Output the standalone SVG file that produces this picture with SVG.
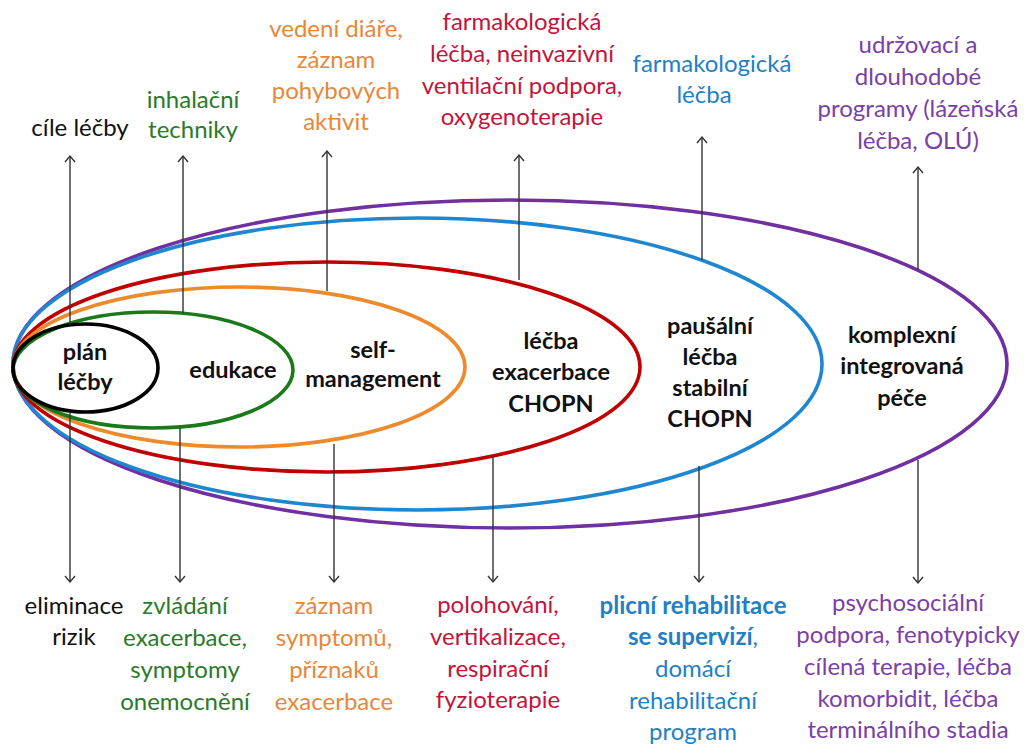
<svg xmlns="http://www.w3.org/2000/svg" width="1024" height="744" viewBox="0 0 1024 744">
  <defs>
    <marker id="tip" markerUnits="userSpaceOnUse" markerWidth="16" markerHeight="16" refX="8" refY="8" orient="auto" overflow="visible">
      <path d="M2,3 L8,8 L2,13" fill="none" stroke="#333" stroke-width="1.4"/>
    </marker>
    <style>
      text { font-family: Lato, "Liberation Sans", sans-serif; font-size: 24px; text-anchor: middle; }
      .b { font-weight: bold; fill: #111; font-size: 23.5px; }
      .ring { fill: none; stroke-width: 3.6; }
      .arrow { stroke: #333; stroke-width: 1.4; fill: none; marker-end: url(#tip); }
      .k { fill: #111; }
      .g { fill: #2a7a2a; }
      .o { fill: #e8873a; }
      .r { fill: #c4143a; }
      .bl { fill: #1f80c6; }
      .p { fill: #7a40a8; }
    </style>
  </defs>
  <rect width="1024" height="744" fill="#fff"/>

  <!-- nested care levels, outermost first -->
  <g id="integrated-care">
    <ellipse class="ring" cx="510" cy="364" rx="497" ry="164" stroke="#7030a0"/>
    <text class="b" x="902" y="343">komplexní</text>
    <text class="b" x="902" y="374">integrovaná</text>
    <text class="b" x="902" y="406">péče</text>
  </g>
  <g id="stable-treatment">
    <ellipse class="ring" cx="417.5" cy="364" rx="404.5" ry="146" stroke="#1f86d0"/>
    <text class="b" x="710" y="334">paušální</text>
    <text class="b" x="710" y="365">léčba</text>
    <text class="b" x="710" y="396">stabilní</text>
    <text class="b" x="710" y="427">CHOPN</text>
  </g>
  <g id="exacerbation-treatment">
    <ellipse class="ring" cx="326.5" cy="367" rx="313.5" ry="105" stroke="#c00000"/>
    <text class="b" x="551" y="349">léčba</text>
    <text class="b" x="551" y="380">exacerbace</text>
    <text class="b" x="551" y="412">CHOPN</text>
  </g>
  <g id="self-management">
    <ellipse class="ring" cx="239" cy="367" rx="226" ry="80" stroke="#ec8a2c"/>
    <text class="b" x="373" y="358">self-</text>
    <text class="b" x="373" y="387">management</text>
  </g>
  <g id="education">
    <ellipse class="ring" cx="153" cy="370" rx="140" ry="58" stroke="#1a7a1a"/>
    <text class="b" x="233" y="378">edukace</text>
  </g>
  <g id="treatment-plan">
    <ellipse class="ring" cx="85.5" cy="368" rx="72.5" ry="44" stroke="#000"/>
    <text class="b" x="85" y="360">plán</text>
    <text class="b" x="85" y="390">léčby</text>
  </g>

  <g id="connectors">
    <line class="arrow" x1="70" y1="325" x2="70" y2="156"/>
    <line class="arrow" x1="183" y1="313" x2="183" y2="156"/>
    <line class="arrow" x1="327" y1="291" x2="327" y2="151"/>
    <line class="arrow" x1="519" y1="280" x2="519" y2="155"/>
    <line class="arrow" x1="702" y1="260" x2="702" y2="137"/>
    <line class="arrow" x1="918" y1="270" x2="918" y2="167"/>
    <line class="arrow" x1="70" y1="412" x2="70" y2="582"/>
    <line class="arrow" x1="180" y1="428" x2="180" y2="582"/>
    <line class="arrow" x1="334" y1="444" x2="334" y2="582"/>
    <line class="arrow" x1="493" y1="456" x2="493" y2="582"/>
    <line class="arrow" x1="699" y1="466" x2="699" y2="582"/>
    <line class="arrow" x1="918" y1="460" x2="918" y2="583"/>
  </g>

  <!-- labels above -->
  <g id="goals">
    <text class="k" x="80" y="136">cíle léčby</text>
  </g>
  <g id="inhalation">
    <text class="g" x="193" y="108">inhalační</text>
    <text class="g" x="193" y="138">techniky</text>
  </g>
  <g id="diary">
    <text class="o" x="336" y="37">vedení diáře,</text>
    <text class="o" x="336" y="68">záznam</text>
    <text class="o" x="336" y="99">pohybových</text>
    <text class="o" x="336" y="130">aktivit</text>
  </g>
  <g id="acute-pharmacology">
    <text class="r" x="522" y="30">farmakologická</text>
    <text class="r" x="522" y="62">léčba, neinvazivní</text>
    <text class="r" x="522" y="94">ventilační podpora,</text>
    <text class="r" x="522" y="125">oxygenoterapie</text>
  </g>
  <g id="stable-pharmacology">
    <text class="bl" x="712" y="72" font-size="22">farmakologická</text>
    <text class="bl" x="704" y="103" font-size="22">léčba</text>
  </g>
  <g id="long-term">
    <text class="p" x="918" y="53">udržovací a</text>
    <text class="p" x="918" y="85">dlouhodobé</text>
    <text class="p" x="918" y="117">programy (lázeňská</text>
    <text class="p" x="918" y="149">léčba, OLÚ)</text>
  </g>

  <!-- labels below -->
  <g id="risks">
    <text class="k" x="74" y="614">eliminace</text>
    <text class="k" x="74" y="645">rizik</text>
  </g>
  <g id="symptom-control">
    <text class="g" x="185" y="614">zvládání</text>
    <text class="g" x="185" y="646">exacerbace,</text>
    <text class="g" x="185" y="678">symptomy</text>
    <text class="g" x="185" y="710">onemocnění</text>
  </g>
  <g id="symptom-record">
    <text class="o" x="334" y="614">záznam</text>
    <text class="o" x="334" y="646">symptomů,</text>
    <text class="o" x="334" y="678">příznaků</text>
    <text class="o" x="334" y="710">exacerbace</text>
  </g>
  <g id="physiotherapy">
    <text class="r" x="498" y="613">polohování,</text>
    <text class="r" x="498" y="645">vertikalizace,</text>
    <text class="r" x="498" y="677">respirační</text>
    <text class="r" x="498" y="708">fyzioterapie</text>
  </g>
  <g id="rehabilitation">
    <text class="bl" x="693" y="614" font-weight="bold">plicní rehabilitace</text>
    <text class="bl" x="693" y="645"><tspan font-weight="bold">se supervizí</tspan>,</text>
    <text class="bl" x="693" y="677">domácí</text>
    <text class="bl" x="693" y="709">rehabilitační</text>
    <text class="bl" x="693" y="740">program</text>
  </g>
  <g id="psychosocial">
    <text class="p" x="908" y="611">psychosociální</text>
    <text class="p" x="908" y="643">podpora, fenotypicky</text>
    <text class="p" x="908" y="675">cílená terapie, léčba</text>
    <text class="p" x="908" y="707">komorbidit, léčba</text>
    <text class="p" x="908" y="738">terminálního stadia</text>
  </g>
</svg>
